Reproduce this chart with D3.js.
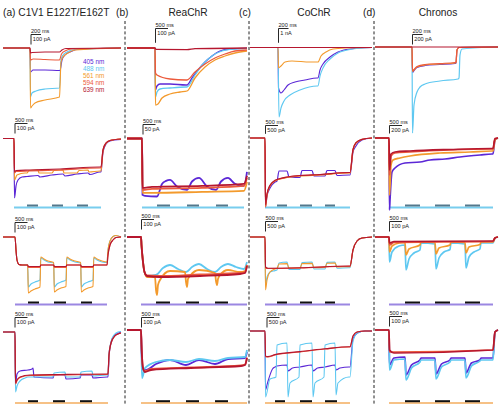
<!DOCTYPE html>
<html><head><meta charset="utf-8">
<script src="https://cdn.jsdelivr.net/npm/d3@7"></script>
<style>body{margin:0;background:#fff}svg{display:block}text{font-family:"Liberation Sans",Arial,Helvetica,sans-serif;font-weight:400}</style>
</head><body><svg id="c" width="501" height="405"></svg>
<script>
// ---------- labels ----------
const wavelengths = ["405 nm","488 nm","561 nm","594 nm","639 nm"];
const traceColors = ["#5b27d6","#5ec8f1","#f39a2c","#ec5a3c","#b6172f"];
const columnLabels = ["(a)","(b)","(c)","(d)"];
const constructNames = ["C1V1 E122T/E162T","ReaChR","CoChR","Chronos"];
const timeBars = ["200 ms","500 ms","200 ms","200 ms","500 ms","500 ms","500 ms","500 ms","500 ms","500 ms","500 ms","500 ms","500 ms","500 ms","500 ms","500 ms"];
const currentBars = ["100 pA","100 pA","1 nA","200 pA","100 pA","50 pA","500 pA","200 pA","100 pA","100 pA","500 pA","100 pA","100 pA","100 pA","500 pA","100 pA"];
const timeBarValues = [200,500,200,200,500,500,500,500,500,500,500,500,500,500,500,500];
const currentBarValues = [100,100,1000,200,100,50,500,200,100,100,500,100,100,100,500,100];

// ---------- traces: [time ms from light onset, current pA] ----------
const a1_405 = [[-540,0],[0,0],[10,-240],[60,-220],[300,-220],[600,-225],[640,-120],[700,-70],[800,-40],[1000,-10],[1820,0]];
const a1_488 = [[-540,0],[0,0],[10,-490],[40,-450],[120,-430],[300,-410],[590,-400],[620,-120],[660,-70],[740,-40],[900,-15],[1820,0]];
const a1_561 = [[-540,0],[0,0],[10,-600],[40,-580],[100,-550],[300,-520],[590,-490],[620,-140],[660,-90],[760,-50],[900,-20],[1820,0]];
const a1_594 = [[-540,0],[0,0],[10,-120],[60,-110],[300,-115],[590,-120],[630,-60],[700,-30],[840,-10],[1820,0]];
const a1_639 = [[-540,0],[0,0],[10,-50],[40,-45],[300,-40],[590,-40],[640,-20],[720,-5],[1820,0]];

const b1_405 = [[-1120,0],[0,0],[20,-294],[80,-266],[200,-252],[600,-252],[1240,-259],[1280,-259],[1480,-210],[1720,-154],[2000,-98],[2280,-56],[2600,-21],[3000,-7],[3680,-3]];
const b1_488 = [[-1120,0],[0,0],[20,-343],[80,-308],[200,-287],[600,-280],[1240,-273],[1280,-273],[1600,-189],[1920,-112],[2280,-56],[2680,-21],[3200,-7],[3680,-3]];
const b1_561 = [[-1120,0],[0,0],[20,-399],[120,-392],[280,-350],[600,-322],[1000,-308],[1280,-301],[1600,-210],[2000,-133],[2400,-84],[2800,-56],[3200,-35],[3680,-21]];
const b1_594 = [[-1120,0],[0,0],[20,-175],[80,-189],[600,-217],[1240,-224],[1280,-224],[1600,-168],[2000,-112],[2400,-70],[2800,-42],[3200,-21],[3680,-14]];
const b1_639 = [[-1120,0],[0,0],[40,-10],[1280,-12],[1600,-5],[3680,0]];

const c1_405 = [[-560,0],[0,0],[10,-2835],[60,-3185],[120,-2975],[200,-2625],[340,-2415],[540,-2275],[780,-2135],[800,-2135],[840,-1575],[900,-1155],[1040,-665],[1200,-315],[1440,-105],[1880,0]];
const c1_488 = [[-560,0],[0,0],[20,-4865],[60,-4235],[120,-3745],[240,-3325],[440,-2975],[780,-2695],[800,-2695],[840,-1995],[900,-1435],[1040,-805],[1200,-385],[1440,-140],[1880,0]];
const c1_561 = [[-560,0],[0,0],[10,-1435],[60,-1295],[140,-1015],[280,-945],[640,-1015],[780,-1015],[800,-1015],[860,-595],[960,-315],[1100,-105],[1340,-35],[1880,0]];
const c1_594 = [[-560,0],[1880,0]];
const c1_639 = [[-560,0],[1880,0]];

const d1_405 = [[-740,0],[0,0],[10,-510],[40,-470],[100,-410],[260,-370],[560,-350],[860,-330],[880,-320],[900,-60],[940,-10],[1720,0]];
const d1_488 = [[-740,0],[0,0],[10,-1720],[40,-1160],[100,-900],[160,-800],[260,-740],[560,-680],[920,-640],[940,-620],[960,-160],[1000,-40],[1720,0]];
const d1_561 = [[-740,0],[0,0],[10,-490],[40,-460],[100,-400],[260,-360],[560,-340],[860,-320],[880,-310],[900,-60],[940,-10],[1720,0]];
const d1_594 = [[-740,0],[0,0],[10,-480],[40,-450],[100,-390],[260,-350],[560,-330],[860,-310],[880,-300],[900,-60],[940,-10],[1720,0]];
const d1_639 = [[-740,0],[1720,0]];

const a2_405 = [[-440,0],[0,0],[20,-595],[80,-475],[160,-415],[320,-385],[520,-380],[960,-370],[1040,-385],[1520,-365],[1960,-355],[2040,-375],[2520,-355],[2960,-345],[3040,-360],[3440,-335],[3480,-335],[3560,-135],[3680,-55],[3840,-25],[4280,-10]];
const a2_561 = [[-440,0],[0,0],[20,-415],[120,-365],[440,-345],[520,-345],[600,-320],[960,-315],[1000,-345],[1520,-345],[1600,-320],[1960,-315],[2000,-345],[2520,-345],[2600,-320],[2960,-315],[3000,-335],[3440,-325],[3480,-325],[3560,-120],[3680,-48],[3840,-20],[4280,-5]];
const a2_594 = [[-440,0],[0,0],[20,-345],[80,-330],[640,-325],[1840,-315],[3440,-295],[3480,-295],[3560,-115],[3680,-45],[3840,-20],[4280,-5]];
const a2_639 = [[-440,0],[0,0],[20,-335],[80,-320],[640,-315],[1840,-305],[3440,-285],[3480,-285],[3560,-115],[3680,-45],[3840,-20],[4280,-5]];

const b2_405 = [[-600,0],[0,0],[20,-282],[120,-287],[600,-290],[800,-227],[960,-212],[1120,-207],[1400,-240],[1800,-257],[2000,-215],[2280,-197],[2600,-240],[2960,-257],[3160,-215],[3440,-197],[3700,-225],[4040,-237],[4080,-237],[4200,-167]];
const b2_561 = [[-600,0],[0,0],[20,-272],[400,-272],[2400,-267],[4080,-262],[4200,-217]];
const b2_594 = [[-600,0],[0,0],[20,-257],[400,-252],[2400,-247],[4080,-237],[4200,-197]];
const b2_639 = [[-600,0],[0,0],[20,-247],[400,-242],[2400,-237],[4080,-227],[4200,-187]];

const c2_405 = [[-600,0],[0,0],[20,-4140],[80,-3480],[200,-3000],[400,-2640],[480,-2580],[560,-1980],[880,-1980],[960,-2340],[1400,-2370],[1480,-1950],[1880,-1950],[1960,-2280],[2400,-2280],[2480,-1950],[2800,-1950],[2880,-2250],[3360,-2220],[3400,-2220],[3520,-840],[3640,-480],[3880,-120],[4280,0]];
const c2_561 = [[-600,0],[0,0],[20,-4140],[80,-3420],[200,-2880],[400,-2580],[800,-2400],[1400,-2280],[2200,-2220],[3360,-2100],[3400,-2100],[3520,-720],[3640,-300],[3880,-90],[4280,0]];
const c2_594 = [[-600,0],[0,0],[20,-4100],[80,-3400],[200,-2860],[400,-2560],[800,-2380],[1400,-2260],[2200,-2200],[3360,-2080],[3400,-2080],[3520,-700],[3640,-290],[3880,-80],[4280,0]];
const c2_639 = [[-600,0],[0,0],[20,-4000],[80,-3350],[200,-2840],[400,-2540],[800,-2360],[1400,-2250],[2200,-2190],[3360,-2070],[3400,-2070],[3520,-690],[3640,-280],[3880,-80],[4280,0]];

const d2_405 = [[-560,0],[0,0],[20,-1800],[40,-1550],[120,-850],[240,-750],[640,-625],[1240,-600],[1640,-550],[2240,-525],[2840,-475],[3640,-425],[4120,-400],[4160,-400],[4240,-50],[4360,0]];
const d2_561 = [[-560,0],[0,0],[20,-1425],[80,-675],[160,-550],[440,-500],[840,-450],[2040,-375],[3240,-350],[4120,-325],[4160,-325],[4240,-50],[4360,0]];
const d2_594 = [[-560,0],[0,0],[20,-925],[80,-450],[240,-375],[840,-350],[2440,-300],[4120,-275],[4160,-275],[4240,-25],[4360,0]];
const d2_639 = [[-560,0],[0,0],[20,-800],[80,-400],[240,-350],[840,-325],[2440,-287],[4120,-262],[4160,-262],[4240,-12],[4360,0]];

const a3_488 = [[-480,0],[0,0],[40,-130],[80,-230],[160,-275],[280,-280],[508,-280],[532,-500],[640,-470],[800,-450],[1000,-430],[1032,-210],[1160,-230],[1320,-250],[1548,-260],[1572,-500],[1680,-470],[1840,-450],[2040,-430],[2072,-210],[2200,-230],[2400,-250],[2628,-260],[2652,-500],[2760,-470],[2920,-450],[3120,-430],[3152,-210],[3280,-230],[3480,-250],[3680,-255],[3720,-130],[3800,-40],[3920,5],[4040,15],[4240,0]];
const a3_561 = [[-480,0],[0,0],[40,-130],[80,-230],[160,-275],[280,-280],[508,-280],[532,-560],[640,-540],[800,-520],[1000,-500],[1032,-200],[1160,-220],[1320,-240],[1548,-255],[1572,-550],[1680,-530],[1840,-510],[2040,-495],[2072,-200],[2200,-220],[2400,-240],[2628,-255],[2652,-550],[2760,-530],[2920,-510],[3120,-495],[3152,-200],[3280,-220],[3480,-240],[3680,-250],[3720,-130],[3800,-40],[3920,5],[4040,15],[4240,0]];
const a3_594 = [[-480,0],[0,0],[40,-130],[80,-230],[160,-275],[280,-280],[508,-280],[532,-305],[1000,-305],[1032,-280],[1548,-280],[1572,-305],[2040,-305],[2072,-280],[2628,-280],[2652,-305],[3120,-305],[3152,-280],[3680,-280],[3720,-180],[3800,-80],[3920,-30],[4040,-5],[4240,0]];
const a3_639 = [[-480,0],[0,0],[40,-130],[80,-230],[160,-275],[280,-280],[508,-280],[532,-295],[1000,-295],[1032,-280],[1548,-280],[1572,-295],[2040,-295],[2072,-280],[2628,-280],[2652,-295],[3120,-295],[3152,-280],[3680,-280],[3720,-180],[3800,-80],[3920,-30],[4040,-5],[4240,0]];

const b3_488 = [[-560,0],[0,0],[20,-80],[80,-250],[140,-350],[240,-390],[600,-380],[880,-310],[1160,-280],[1480,-320],[1800,-350],[2040,-300],[2320,-270],[2640,-320],[2960,-350],[3200,-300],[3480,-270],[3800,-300],[4120,-320],[4240,-250]];
const b3_561 = [[-560,0],[0,0],[20,-80],[80,-250],[140,-350],[240,-400],[560,-400],[600,-530],[640,-580],[680,-480],[760,-430],[1160,-340],[1760,-350],[1800,-450],[1840,-500],[1880,-420],[1960,-390],[2320,-330],[2960,-360],[3000,-440],[3040,-480],[3080,-420],[3160,-380],[3480,-330],[3960,-350],[4160,-340],[4240,-280]];
const b3_594 = [[-560,0],[0,0],[20,-80],[80,-250],[140,-350],[240,-385],[760,-390],[2360,-375],[3960,-360],[4160,-350],[4240,-280]];
const b3_639 = [[-560,0],[0,0],[20,-80],[80,-250],[140,-350],[240,-390],[760,-400],[2360,-390],[3960,-370],[4160,-360],[4240,-290]];

const c3_488 = [[-600,0],[0,0],[20,-2400],[80,-2000],[200,-1750],[400,-1680],[480,-1650],[560,-1300],[880,-1250],[960,-1620],[1400,-1620],[1480,-1280],[1880,-1250],[1960,-1600],[2400,-1600],[2480,-1270],[2800,-1250],[2880,-1560],[3360,-1540],[3400,-1540],[3520,-650],[3680,-200],[3880,-50],[4280,0]];
const c3_561 = [[-600,0],[0,0],[20,-2650],[80,-2150],[200,-1750],[400,-1600],[480,-1570],[560,-1350],[880,-1330],[960,-1550],[1400,-1550],[1480,-1330],[1880,-1320],[1960,-1530],[2400,-1520],[2480,-1310],[2800,-1300],[2880,-1500],[3360,-1480],[3400,-1480],[3520,-650],[3680,-200],[3880,-50],[4280,0]];
const c3_594 = [[-600,0],[0,0],[20,-1550],[120,-1575],[1400,-1550],[3360,-1460],[3400,-1460],[3520,-650],[3680,-200],[3880,-50],[4280,0]];
const c3_639 = [[-600,0],[0,0],[20,-1500],[120,-1560],[1400,-1540],[3360,-1450],[3400,-1450],[3520,-650],[3680,-200],[3880,-50],[4280,0]];

const d3_488 = [[-560,0],[0,0],[20,-250],[120,-150],[400,-90],[640,-80],[680,-330],[800,-220],[1000,-160],[1240,-130],[1280,-60],[1840,-70],[1880,-320],[2000,-210],[2200,-150],[2440,-125],[2480,-60],[3040,-70],[3080,-310],[3200,-200],[3400,-150],[3640,-120],[3680,-60],[4160,-60],[4240,-10],[4360,0]];
const d3_561 = [[-560,0],[0,0],[20,-150],[120,-90],[400,-60],[640,-55],[680,-180],[800,-120],[1240,-80],[1280,-50],[1840,-55],[1880,-170],[2000,-110],[2440,-80],[2480,-50],[3040,-55],[3080,-160],[3200,-100],[3640,-75],[3680,-50],[4160,-50],[4240,-10],[4360,0]];
const d3_594 = [[-560,0],[0,0],[20,-80],[200,-55],[4160,-45],[4240,-10],[4360,0]];
const d3_639 = [[-560,0],[0,0],[20,-60],[200,-45],[4160,-40],[4240,-10],[4360,0]];

const a4_405 = [[-480,0],[0,0],[20,-520],[80,-420],[200,-390],[520,-380],[680,-370],[720,-360],[760,-450],[1520,-460],[1560,-430],[2000,-430],[2040,-470],[2600,-460],[2640,-430],[3080,-430],[3120,-460],[3680,-450],[3720,-450],[3760,-240],[3840,-110],[3960,-40],[4240,0]];
const a4_488 = [[-480,0],[0,0],[20,-600],[80,-540],[200,-490],[400,-460],[520,-450],[920,-450],[1520,-450],[1560,-410],[2000,-400],[2040,-450],[2600,-450],[2640,-400],[3080,-390],[3120,-440],[3680,-430],[3720,-430],[3760,-230],[3840,-100],[3960,-30],[4120,0],[4240,5]];
const a4_594 = [[-480,0],[0,0],[20,-520],[80,-485],[200,-455],[600,-435],[1800,-430],[3680,-425],[3720,-425],[3760,-230],[3840,-110],[3960,-50],[4120,-20],[4240,-10]];
const a4_639 = [[-480,0],[0,0],[20,-510],[80,-480],[200,-450],[600,-430],[1800,-425],[3680,-420],[3720,-420],[3760,-230],[3840,-110],[3960,-50],[4120,-20],[4240,-10]];

const b4_405 = [[-560,0],[0,0],[20,-200],[80,-400],[200,-400],[600,-340],[1160,-300],[1800,-350],[2320,-300],[2960,-340],[3480,-290],[4160,-280],[4240,-220]];
const b4_488 = [[-560,0],[0,0],[40,-480],[160,-380],[600,-320],[1160,-300],[1800,-320],[2320,-290],[2960,-310],[3480,-280],[4160,-270],[4240,-200]];
const b4_594 = [[-560,0],[0,0],[20,-150],[80,-380],[160,-410],[400,-390],[2000,-375],[4000,-355],[4160,-345],[4240,-275]];
const b4_639 = [[-560,0],[0,0],[20,-150],[80,-380],[160,-420],[400,-400],[2000,-380],[4000,-360],[4160,-350],[4240,-280]];

const c4_405 = [[-600,0],[0,0],[20,-2950],[100,-2600],[300,-1900],[400,-1800],[480,-1750],[880,-1700],[920,-2000],[1100,-1850],[1400,-1800],[1880,-1700],[1920,-2000],[2100,-1850],[2400,-1800],[2800,-1700],[2840,-1950],[3000,-1850],[3360,-1800],[3400,-1800],[3520,-400],[3700,-100],[4000,0],[4280,0]];
const c4_488 = [[-600,0],[0,0],[20,-3300],[200,-2400],[440,-2300],[480,-700],[880,-600],[920,-3300],[1000,-2600],[1360,-2300],[1400,-700],[1880,-600],[1920,-3300],[2000,-2600],[2360,-2300],[2400,-700],[2800,-600],[2840,-3200],[2920,-2600],[3360,-2300],[3400,-2300],[3520,-500],[3700,-100],[4000,0],[4280,0]];
const c4_594 = [[-600,0],[0,0],[20,-1300],[120,-1300],[400,-1200],[1400,-1050],[2400,-900],[3360,-800],[3400,-800],[3520,-250],[3680,-50],[4000,0],[4280,0]];
const c4_639 = [[-600,0],[0,0],[20,-1250],[120,-1280],[400,-1180],[1400,-1030],[2400,-890],[3360,-790],[3400,-790],[3520,-250],[3680,-50],[4000,0],[4280,0]];

const d4_405 = [[-560,0],[0,0],[20,-350],[200,-280],[640,-270],[680,-450],[900,-350],[1240,-300],[1280,-280],[1840,-280],[1880,-440],[2100,-340],[2440,-300],[2480,-280],[3040,-280],[3080,-430],[3300,-330],[3640,-300],[3680,-280],[4160,-280],[4240,-20],[4360,0]];
const d4_488 = [[-560,0],[0,0],[20,-400],[200,-300],[640,-290],[680,-500],[900,-380],[1240,-320],[1280,-300],[1840,-300],[1880,-490],[2100,-370],[2440,-320],[2480,-300],[3040,-300],[3080,-480],[3300,-360],[3640,-310],[3680,-300],[4160,-300],[4240,-20],[4360,0]];
const d4_594 = [[-560,0],[0,0],[20,-220],[200,-220],[4160,-200],[4240,-20],[4360,0]];
const d4_639 = [[-560,0],[0,0],[20,-200],[200,-230],[4160,-200],[4240,-20],[4360,0]];

// second-light pulses [start, end] ms and background duration
const pulsesA2 = [[520,960],[1520,1960],[2520,2960]], bgA2 = [0,3480];
const pulsesB2 = [[600,1120],[1800,2280],[2960,3440]], bgB2 = [0,4080];
const pulsesC2 = [[480,880],[1400,1880],[2400,2800]], bgC2 = [0,3400];
const pulsesD2 = [[640,1240],[1840,2440],[3040,3640]], bgD2 = [0,4160];
const pulsesA3 = [[520,960],[1560,2040],[2640,3080]], bgA3 = [0,3680];
const pulsesB3 = [[600,1160],[1800,2320],[2960,3480]], bgB3 = [0,4240];
const pulsesC3 = [[480,880],[1400,1880],[2400,2800]], bgC3 = [0,3400];
const pulsesD3 = [[640,1240],[1840,2440],[3040,3640]], bgD3 = [0,4160];
const pulsesA4 = [[520,920],[1520,2000],[2600,3080]], bgA4 = [0,3720];
const pulsesB4 = [[600,1160],[1800,2320],[2960,3480]], bgB4 = [0,4240];
const pulsesC4 = [[400,800],[1400,1880],[2400,2880]], bgC4 = [0,3400];
const pulsesD4 = [[640,1240],[1840,2440],[3040,3640]], bgD4 = [0,4160];

// ---------- layout (pixels) ----------
const svg = d3.select("#c");
const layout = [
 {x0:30, y0:48, msPx:20, pAPx:10, bx:31, by:34.5, tr:[a1_405,a1_488,a1_561,a1_594,a1_639], sw:1.1},
 {x0:155,y0:48, msPx:40, pAPx:7, bx:155.5,by:28.5, tr:[b1_405,b1_488,b1_561,b1_594,b1_639], sw:1.3},
 {x0:278,y0:47.5,msPx:20,pAPx:70, bx:278.5,by:28.5, tr:[c1_405,c1_488,c1_561,c1_594,c1_639], sw:1.1},
 {x0:412,y0:47, msPx:20, pAPx:20, bx:412.5,by:34.5, tr:[d1_405,d1_488,d1_561,d1_594,d1_639], sw:1.2},
 {x0:14, y0:138.5,msPx:40,pAPx:10, bx:15,by:123.5, tr:[a2_405,null,a2_561,a2_594,a2_639], p:pulsesA2, bg:bgA2, sw:1.2},
 {x0:142,y0:138.5,msPx:40,pAPx:5, bx:143,by:124.5, tr:[b2_405,null,b2_561,b2_594,b2_639], p:pulsesB2, bg:bgB2, sw:1.8},
 {x0:265,y0:138, msPx:40,pAPx:60, bx:265.5,by:125.5, tr:[c2_405,null,c2_561,c2_594,c2_639], p:pulsesC2, bg:bgC2, sw:1.2},
 {x0:389,y0:138, msPx:40,pAPx:25, bx:389.5,by:125.5, tr:[d2_405,null,d2_561,d2_594,d2_639], p:pulsesD2, bg:bgD2, sw:1.7},
 {x0:15, y0:237, msPx:40,pAPx:10, bx:15,by:222.5, tr:[null,a3_488,a3_561,a3_594,a3_639], p:pulsesA3, bg:bgA3, sw:1.1},
 {x0:141,y0:237, msPx:40,pAPx:10, bx:141.5,by:219.5, tr:[null,b3_488,b3_561,b3_594,b3_639], p:pulsesB3, bg:bgB3, sw:1.8},
 {x0:265,y0:237, msPx:40,pAPx:50, bx:265.5,by:221.5, tr:[null,c3_488,c3_561,c3_594,c3_639], p:pulsesC3, bg:bgC3, sw:1.1},
 {x0:389,y0:237, msPx:40,pAPx:10, bx:389.5,by:221.5, tr:[null,d3_488,d3_561,d3_594,d3_639], p:pulsesD3, bg:bgD3, sw:1.7},
 {x0:15, y0:332, msPx:40,pAPx:10, bx:15,by:317.5, tr:[a4_405,a4_488,null,a4_594,a4_639], p:pulsesA4, bg:bgA4, sw:1.2},
 {x0:141,y0:330, msPx:40,pAPx:10, bx:141.5,by:317.5, tr:[b4_405,b4_488,null,b4_594,b4_639], p:pulsesB4, bg:bgB4, sw:1.8},
 {x0:265,y0:331, msPx:40,pAPx:50, bx:267,by:317.5, tr:[c4_405,c4_488,null,c4_594,c4_639], p:pulsesC4, bg:bgC4, sw:1.1},
 {x0:389,y0:330, msPx:40,pAPx:10, bx:389.5,by:316.5, tr:[d4_405,d4_488,null,d4_594,d4_639], p:pulsesD4, bg:bgD4, sw:1.7}
];
const stimRows = [null,{line:207.5,seg:205.5,lc:"#78cdee",sc:"#53788c"},{line:304.5,seg:302.5,lc:"#9b87e2",sc:"#111"},{line:403,seg:401.2,lc:"#f6c186",sc:"#111"}];

[125,249,374].forEach(x=>svg.append("line").attr("x1",x).attr("x2",x).attr("y1",21).attr("y2",405)
  .attr("stroke","#222").attr("stroke-width",1).attr("stroke-dasharray","3,2.2"));

const tfs = 10.2;
svg.append("text").attr("x",3).attr("y",15.5).attr("font-size",tfs).attr("fill","#222").text(columnLabels[0]+" "+constructNames[0]);
[[116,188,1],[239,314,2],[363,438,3]].forEach(([lx,cx,i])=>{
  svg.append("text").attr("x",lx).attr("y",15.5).attr("font-size",tfs).attr("fill","#222").text(columnLabels[i]);
  svg.append("text").attr("x",cx).attr("y",15.5).attr("font-size",tfs).attr("fill","#222").attr("text-anchor","middle").text(constructNames[i]);
});

layout.forEach((L,k)=>{
  const row = Math.floor(k/4);
  const g = svg.append("g");
  const x = d3.scaleLinear().domain([0,1000]).range([L.x0, L.x0+1000/L.msPx]);
  const y = d3.scaleLinear().domain([0,-1000]).range([L.y0, L.y0+1000/L.pAPx]);
  const line = d3.line().x(d=>x(d[0])).y(d=>y(d[1])).curve(d3.curveMonotoneX);
  if (row>0){
    const S = stimRows[row];
    g.append("line").attr("x1",x(L.bg[0])).attr("x2",x(L.bg[1])).attr("y1",S.line).attr("y2",S.line)
      .attr("stroke",S.lc).attr("stroke-width",2);
    L.p.forEach(p=>g.append("line").attr("x1",x(p[0])).attr("x2",x(p[1])).attr("y1",S.seg).attr("y2",S.seg)
      .attr("stroke",S.sc).attr("stroke-width",2));
  }
  L.tr.forEach((d,i)=>{ if(!d) return;
    g.append("path").attr("d",line(d)).attr("fill","none").attr("stroke",traceColors[i])
      .attr("stroke-width",L.sw).attr("stroke-linejoin","round");
  });
  const hx = x(timeBarValues[k]) - x(0), vy = y(-currentBarValues[k]) - y(0);
  g.append("path").attr("d",`M${L.bx+hx},${L.by}H${L.bx}V${L.by+vy}`).attr("fill","none").attr("stroke","#111").attr("stroke-width",0.9);
  g.append("text").attr("x",L.bx).attr("y",L.by-1.3).attr("font-size",5.6).attr("fill","#222").text(timeBars[k]);
  g.append("text").attr("x",L.bx+1.8).attr("y",L.by+6.4).attr("font-size",5.6).attr("fill","#222").text(currentBars[k]);
});

wavelengths.forEach((w,i)=>svg.append("text").attr("x",83).attr("y",64+i*7).attr("font-size",6.4)
  .attr("fill",traceColors[i]).text(w));
</script></body></html>
